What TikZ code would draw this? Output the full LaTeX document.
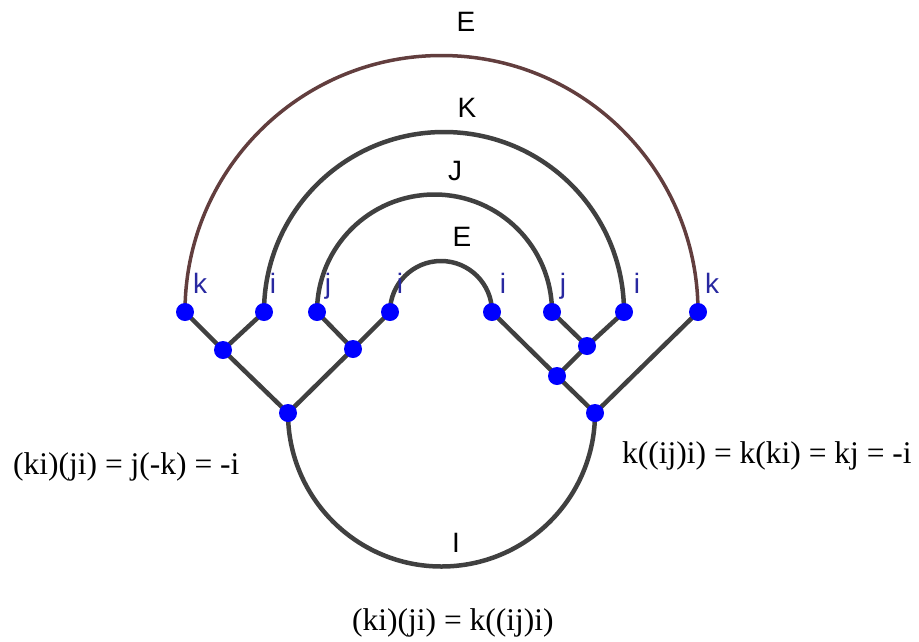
\documentclass[tikz,border=0pt]{standalone}
\usepackage{fontspec}
\setmainfont{Liberation Serif}
\newfontfamily\labfont{Liberation Sans}
\pgfdeclarelayer{background}
\pgfsetlayers{background,main}
\definecolor{wire}{RGB}{64,64,64}
\definecolor{brownwire}{RGB}{98,62,62}
\definecolor{dotblue}{RGB}{0,0,255}
\definecolor{letterblue}{RGB}{40,40,160}
\tikzset{
  dot/.style={circle,fill=dotblue,draw=none,minimum size=18pt,inner sep=0pt},
  wireline/.style={draw=wire,line width=4.5pt},
  brownline/.style={draw=brownwire,line width=3.5pt},
  leaflabel/.style={anchor=base,inner sep=0pt,text=letterblue,font=\labfont\fontsize{28}{30}\selectfont},
  arclabel/.style={anchor=center,inner sep=0pt,text=black,font=\labfont\fontsize{28}{30}\selectfont},
  formula/.style={anchor=base west,inner sep=0pt,text=black,font=\fontsize{31.5}{36}\selectfont}
}
\begin{document}
\begin{tikzpicture}[x=1pt,y=-1pt]
\useasboundingbox (0,0) rectangle (919,641);
% leaves
\node[dot] (l1) at (185,312) {};
\node[dot] (l2) at (264,312) {};
\node[dot] (l3) at (317,312) {};
\node[dot] (l4) at (390,312) {};
\node[dot] (r1) at (492,312) {};
\node[dot] (r2) at (552,312) {};
\node[dot] (r3) at (624,312) {};
\node[dot] (r4) at (698,312) {};
% inner nodes
\node[dot] (a1) at (223,350) {};
\node[dot] (a2) at (353,349) {};
\node[dot] (ra) at (288,413) {};
\node[dot] (b1) at (587,346) {};
\node[dot] (b2) at (557,376) {};
\node[dot] (rb) at (595,413) {};
\begin{pgfonlayer}{background}
\draw[wireline] (a1.center) -- (l1.center);
\draw[wireline] (a1.center) -- (l2.center);
\draw[wireline] (a2.center) -- (l3.center);
\draw[wireline] (a2.center) -- (l4.center);
\draw[wireline] (ra.center) -- (a1.center);
\draw[wireline] (ra.center) -- (a2.center);
\draw[wireline] (b1.center) -- (r2.center);
\draw[wireline] (b1.center) -- (r3.center);
\draw[wireline] (b2.center) -- (b1.center);
\draw[wireline] (b2.center) -- (r1.center);
\draw[wireline] (rb.center) -- (b2.center);
\draw[wireline] (rb.center) -- (r4.center);
% arcs
\draw[brownline] (l1.center) arc[start angle=180,end angle=0,radius=256.5pt];
\draw[wireline] (l2.center) arc[start angle=180,end angle=0,radius=180pt];
\draw[wireline] (l3.center) arc[start angle=180,end angle=0,radius=117.5pt];
\draw[wireline] (l4.center) arc[start angle=180,end angle=0,radius=51pt];
\draw[wireline] (ra.center) arc[start angle=180,end angle=360,radius=153.5pt];
\end{pgfonlayer}
% leaf labels
\node[leaflabel] (t1) at (200,293) {k};
\node[leaflabel] (t2) at (273,293) {i};
\node[leaflabel] (t3) at (328,293) {j};
\node[leaflabel] (t4) at (400,293) {i};
\node[leaflabel] (t5) at (503,293) {i};
\node[leaflabel] (t6) at (563,293) {j};
\node[leaflabel] (t7) at (637,293) {i};
\node[leaflabel] (t8) at (712,293) {k};
% arc labels
\node[arclabel] (eo) at (466,22) {E};
\node[arclabel] (kk) at (467,108) {K};
\node[arclabel] (jj) at (455,171) {J};
\node[arclabel] (ei) at (462,237) {E};
\node[arclabel] (ii) at (456,543) {I};
% formulas
\node[formula] (f1) at (13,474) {(ki)(ji) = j(-k) = -i};
\node[formula] (f2) at (622,463) {k((ij)i) = k(ki) = kj = -i};
\node[formula] (f3) at (352,630) {(ki)(ji) = k((ij)i)};
\end{tikzpicture}
\end{document}
